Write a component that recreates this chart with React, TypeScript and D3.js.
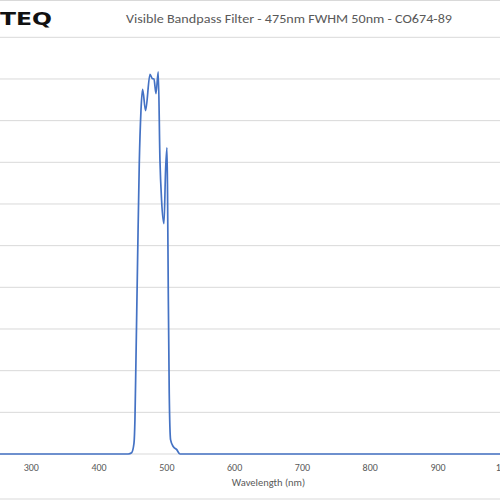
import React from "react";
import * as d3 from "d3";

const wavelengths: number[] = [200, 300, 400, 443, 448, 451.5, 452.9, 454.4, 456.8, 459.3, 461.8, 464.2, 468.6, 475.1, 478.5, 481, 483.9, 487.3, 489.8, 492.2, 495.7, 498.1, 500.1, 501.0, 502.1, 503.5, 505.5, 509.4, 514.3, 519.3, 530, 600, 700, 800, 900, 1000, 1100];
const transmission: number[] = [0, 0, 0, 0, 0.3, 2.6, 8.2, 22.5, 46.5, 69.8, 82.4, 87.5, 82.4, 91.1, 90.1, 90.0, 86.5, 91.7, 70.5, 60.9, 55.3, 68.1, 73.5, 62.6, 38.6, 14.6, 3.4, 1.8, 1.1, 0, 0, 0, 0, 0, 0, 0, 0];
const xTicks: number[] = [300, 400, 500, 600, 700, 800, 900, 1000];
const yTicks: number[] = [0, 10, 20, 30, 40, 50, 60, 70, 80, 90, 100];
const title = "Visible Bandpass Filter - 475nm FWHM 50nm - CO674-89";
const xTitle = "Wavelength (nm)";
const logo = "TEQ";

export default function App() {
  const W = 500, H = 500;
  const x = d3.scaleLinear().domain([300, 900]).range([31.3, 438]);
  const y = d3.scaleLinear().domain([0, 100]).range([454, 37.3]);
  const data = wavelengths.map((w, i) => [w, transmission[i]] as [number, number]);
  const line = d3.line<[number, number]>().x(d => x(d[0])).y(d => y(d[1])).curve(d3.curveMonotoneX);
  const font = "Calibri, Carlito, 'Liberation Sans', 'Open Sans', sans-serif";
  return (
    <svg width={W} height={H} style={{ position: "fixed", left: 0, top: 0, background: "#fff" }}>
      <rect x={0} y={0} width={W} height={H} fill="#fff" />
      <line x1={0} x2={W} y1={0.5} y2={0.5} stroke="#d9d9d9" />
      <line x1={0} x2={W} y1={499} y2={499} stroke="#d9d9d9" />
      {yTicks.map(t => (
        <line key={t} x1={0} x2={W} y1={y(t)} y2={y(t)} stroke="#d9d9d9" strokeWidth={1} />
      ))}
      <text x={0} y={24.5} fontFamily="'DejaVu Sans', sans-serif" fontWeight="bold" fontSize={18} fill="#111" textLength={52} lengthAdjust="spacingAndGlyphs">{logo}</text>
      <text x={289} y={23} textAnchor="middle" fontFamily={font} fontSize={13} fill="#595959" textLength={326} lengthAdjust="spacingAndGlyphs">{title}</text>
      <path d={line(data) || ""} fill="none" stroke="#4472C4" strokeWidth={1.7} strokeLinejoin="round" />
      {xTicks.map(t => (
        <text key={t} x={x(t)} y={471} textAnchor="middle" fontFamily={font} fontSize={10} fill="#595959">{t}</text>
      ))}
      <text x={268.5} y={485.5} textAnchor="middle" fontFamily={font} fontSize={10.5} fill="#595959">{xTitle}</text>
    </svg>
  );
}
